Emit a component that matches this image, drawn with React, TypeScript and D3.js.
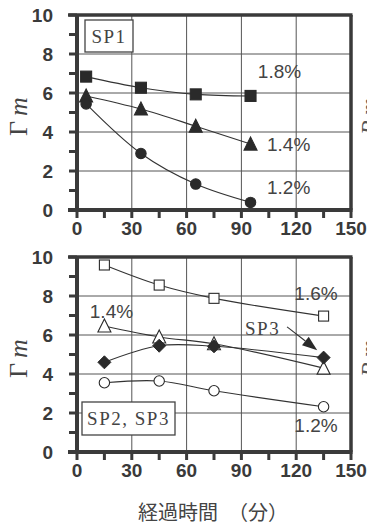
import React from "react";
import * as d3 from "d3";

const X_TICKS = [0, 30, 60, 90, 120, 150];
const Y_TICKS = [0, 2, 4, 6, 8, 10];

// Panel 1 (SP1)
const SP1_TIME = [5, 35, 65, 95];
const SP1_18 = [6.84, 6.27, 5.93, 5.85];
const SP1_14 = [5.85, 5.18, 4.3, 3.38];
const SP1_12 = [5.44, 2.9, 1.33, 0.39];

// Panel 2 (SP2, SP3)
const SP23_TIME = [15, 45, 75, 135];
const SP2_16 = [9.59, 8.56, 7.88, 6.97];
const SP2_14 = [6.46, 5.9, 5.55, 4.3];
const SP3_VAL = [4.6, 5.45, 5.42, 4.84];
const SP2_12 = [3.55, 3.64, 3.14, 2.32];

const INK = "#3a3a3a";
const GRID = "#555";

type Series = { xs: number[]; ys: number[]; marker: string; filled: boolean };

function Marker({ kind, filled, x, y }: { kind: string; filled: boolean; x: number; y: number }) {
  const fill = filled ? "#2a2a2a" : "#fff";
  const stroke = "#2a2a2a";
  if (kind === "square") {
    const s = filled ? 11 : 10;
    return <rect x={x - s / 2} y={y - s / 2} width={s} height={s} fill={fill} stroke={stroke} strokeWidth={1.1} />;
  }
  if (kind === "triangle") {
    const h = 12;
    const w = 13;
    return (
      <polygon
        points={`${x},${y - h / 2 - 1} ${x - w / 2},${y + h / 2} ${x + w / 2},${y + h / 2}`}
        fill={fill}
        stroke={stroke}
        strokeWidth={1.1}
      />
    );
  }
  if (kind === "diamond") {
    const r = 6.5;
    return (
      <polygon
        points={`${x},${y - r} ${x + r},${y} ${x},${y + r} ${x - r},${y}`}
        fill={fill}
        stroke={stroke}
        strokeWidth={1}
      />
    );
  }
  return <circle cx={x} cy={y} r={5.2} fill={fill} stroke={stroke} strokeWidth={1.1} />;
}

function Panel({
  top,
  bottom,
  series,
  children,
}: {
  top: number;
  bottom: number;
  series: Series[];
  children: (x: d3.ScaleLinear<number, number>, y: d3.ScaleLinear<number, number>) => React.ReactNode;
}) {
  const left = 77;
  const right = 351;
  const x = d3.scaleLinear().domain([0, 150]).range([left, right]);
  const y = d3.scaleLinear().domain([0, 10]).range([bottom, top]);
  const line = d3
    .line<[number, number]>()
    .x((d) => x(d[0]))
    .y((d) => y(d[1]))
    .curve(d3.curveCatmullRom.alpha(0.5));
  const minorY = d3.range(0, 11, 1);
  const minorX = d3.range(0, 151, 15);
  return (
    <g>
      {/* grid */}
      {X_TICKS.slice(1, -1).map((t) => (
        <line key={"gx" + t} x1={x(t)} x2={x(t)} y1={top} y2={bottom} stroke={GRID} strokeWidth={1} />
      ))}
      {Y_TICKS.slice(1, -1).map((t) => (
        <line key={"gy" + t} x1={left} x2={right} y1={y(t)} y2={y(t)} stroke={GRID} strokeWidth={1} />
      ))}
      {/* y ticks */}
      {minorY.map((t) => (
        <line key={"ty" + t} x1={69} x2={left} y1={y(t)} y2={y(t)} stroke={INK} strokeWidth={3} />
      ))}
      {/* x ticks */}
      {minorX.map((t) => (
        <line key={"tx" + t} x1={x(t)} x2={x(t)} y1={bottom} y2={bottom + 8} stroke={INK} strokeWidth={3} />
      ))}
      {/* frame */}
      <line x1={68} x2={right + 1.5} y1={top} y2={top} stroke={INK} strokeWidth={3.5} />
      <line x1={68} x2={right + 1.5} y1={bottom} y2={bottom} stroke={INK} strokeWidth={4} />
      <line x1={left} x2={left} y1={top} y2={bottom} stroke={INK} strokeWidth={4} />
      <line x1={right} x2={right} y1={top} y2={bottom} stroke={INK} strokeWidth={3.5} />
      {/* tick labels */}
      {Y_TICKS.map((t) => (
        <text
          key={"ly" + t}
          x={53}
          y={y(t)}
          dy="0.36em"
          textAnchor="end"
          fontFamily="'Liberation Sans', Arial, sans-serif"
          fontWeight="bold"
          fontSize={19}
          fill={INK}
        >
          {t}
        </text>
      ))}
      {X_TICKS.map((t) => (
        <text
          key={"lx" + t}
          x={x(t)}
          y={bottom + 18}
          dy="0.36em"
          textAnchor="middle"
          fontFamily="'Liberation Sans', Arial, sans-serif"
          fontWeight="bold"
          fontSize={19}
          fill={INK}
        >
          {t}
        </text>
      ))}
      {/* y label */}
      <text
        transform={`translate(18,${(top + bottom) / 2 + 4}) rotate(-90)`}
        textAnchor="middle"
        dy="0.35em"
        fontFamily="'Liberation Serif', 'DejaVu Serif', serif"
        fontSize={26}
        fill="#444"
      >
        <tspan>Γ</tspan>
        <tspan dx={5} fontStyle="italic">m</tspan>
      </text>
      {/* neighbouring chart's label, clipped by the page edge as in the reference */}
      <text
        transform={`translate(369,${(top + bottom) / 2 + 4}) rotate(-90)`}
        textAnchor="middle"
        dy="0.35em"
        fontFamily="'Liberation Serif', 'DejaVu Serif', serif"
        fontSize={24}
        fill="#555"
      >
        <tspan fontStyle="italic">R</tspan>
        <tspan dx={5} fontStyle="italic">m</tspan>
      </text>
      {/* series */}
      {series.map((s, i) => (
        <path
          key={"p" + i}
          d={line(s.xs.map((v, j) => [v, s.ys[j]] as [number, number])) || ""}
          fill="none"
          stroke="#333"
          strokeWidth={1.1}
        />
      ))}
      {series.map((s, i) =>
        s.xs.map((v, j) => (
          <Marker key={"m" + i + "-" + j} kind={s.marker} filled={s.filled} x={x(v)} y={y(s.ys[j])} />
        ))
      )}
      {children(x, y)}
    </g>
  );
}

const pctStyle = {
  fontFamily: "'Liberation Sans', Arial, sans-serif",
  fontSize: 19,
  fill: "#444",
};
const serifStyle = {
  fontFamily: "'Liberation Serif', 'DejaVu Serif', serif",
  fontSize: 19,
  fill: "#444",
};

export default function App() {
  const top1: Series[] = [
    { xs: SP1_TIME, ys: SP1_18, marker: "square", filled: true },
    { xs: SP1_TIME, ys: SP1_14, marker: "triangle", filled: true },
    { xs: SP1_TIME, ys: SP1_12, marker: "circle", filled: true },
  ];
  const bot: Series[] = [
    { xs: SP23_TIME, ys: SP2_16, marker: "square", filled: false },
    { xs: SP23_TIME, ys: SP2_14, marker: "triangle", filled: false },
    { xs: SP23_TIME, ys: SP3_VAL, marker: "diamond", filled: true },
    { xs: SP23_TIME, ys: SP2_12, marker: "circle", filled: false },
  ];
  return (
    <svg
      width={367}
      height={523}
      style={{ position: "absolute", left: 0, top: 0, background: "#fff" }}
    >
      <rect width={367} height={523} fill="#fff" />
      <Panel top={15} bottom={210} series={top1}>
        {(x, y) => (
          <g>
            <rect x={85} y={20} width={48} height={32} fill="#fff" stroke="#444" strokeWidth={1.3} />
            <text x={109} y={36} dy="0.35em" textAnchor="middle" letterSpacing={1.5} {...serifStyle}>
              SP1
            </text>
            <text x={x(99)} y={y(7.1)} dy="0.36em" {...pctStyle}>1.8%</text>
            <text x={x(104)} y={y(3.4)} dy="0.36em" {...pctStyle}>1.4%</text>
            <text x={x(104)} y={y(1.15)} dy="0.36em" {...pctStyle}>1.2%</text>
          </g>
        )}
      </Panel>
      <Panel top={257} bottom={452} series={bot}>
        {(x, y) => (
          <g>
            <rect x={82} y={402} width={93} height={33} fill="#fff" stroke="#444" strokeWidth={1.3} />
            <text x={128.5} y={418.5} dy="0.35em" textAnchor="middle" letterSpacing={1.5} {...serifStyle}>
              SP2, SP3
            </text>
            <text x={x(119)} y={y(8.15)} dy="0.36em" {...pctStyle}>1.6%</text>
            <text x={x(7)} y={y(7.2)} dy="0.36em" {...pctStyle}>1.4%</text>
            <text x={x(119)} y={y(1.4)} dy="0.36em" {...pctStyle}>1.2%</text>
            <text x={x(92)} y={y(6.35)} dy="0.35em" letterSpacing={1.5} {...serifStyle}>SP3</text>
            {(() => {
              const x0 = x(115), y0 = y(6.42), x1 = x(131.5), y1 = y(5.22);
              const ang = Math.atan2(y1 - y0, x1 - x0);
              const L = 15, W = 5.5;
              const bx = x1 - L * Math.cos(ang), by = y1 - L * Math.sin(ang);
              const px = -Math.sin(ang) * W, py = Math.cos(ang) * W;
              return (
                <g>
                  <line x1={x0} y1={y0} x2={bx} y2={by} stroke="#333" strokeWidth={1.1} />
                  <polygon
                    points={`${x1},${y1} ${bx + px},${by + py} ${bx - px},${by - py}`}
                    fill="#2a2a2a"
                  />
                </g>
              );
            })()}
          </g>
        )}
      </Panel>
      <text
        x={138}
        y={513}
        dy="0.36em"
        fontFamily="'Noto Sans CJK JP', sans-serif"
        fontSize={20}
        fill="#444"
      >
        経過時間　（分）
      </text>
    </svg>
  );
}
